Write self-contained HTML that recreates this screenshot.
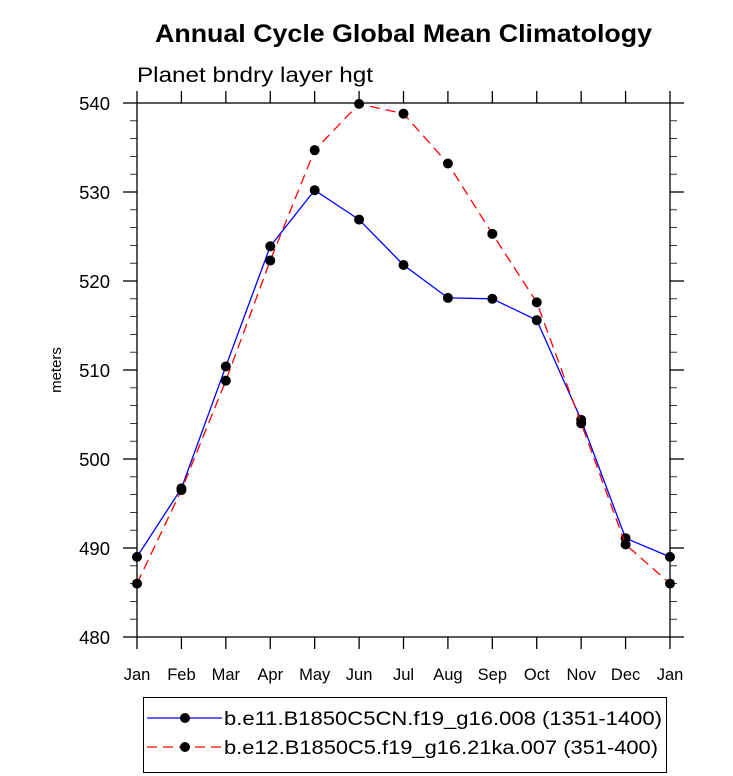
<!DOCTYPE html>
<html><head><meta charset="utf-8"><style>
body{margin:0;background:#fff}
svg{display:block;font-family:"Liberation Sans",Arial,sans-serif}
</style></head><body>
<svg id="chart" width="733" height="776" viewBox="0 0 733 776">
<text x="155" y="42" font-size="25" font-weight="bold" textLength="497" lengthAdjust="spacingAndGlyphs">Annual Cycle Global Mean Climatology</text>
<text x="137" y="82" font-size="21" textLength="236" lengthAdjust="spacingAndGlyphs">Planet bndry layer hgt</text>
<text transform="translate(61,370) rotate(-90)" text-anchor="middle" font-size="15">meters</text>
<g id="axes"></g>
<g id="series"></g>
<g>
<rect x="143.5" y="697.5" width="523" height="75" fill="none" stroke="#000" stroke-width="1"/>
<line x1="147" y1="718" x2="222" y2="718" stroke="#00f" stroke-width="1.3"/>
<circle cx="185" cy="718" r="5" fill="#000"/>
<text x="224" y="725" font-size="19" textLength="438" lengthAdjust="spacingAndGlyphs">b.e11.B1850C5CN.f19_g16.008 (1351-1400)</text>
<line x1="147" y1="747" x2="222" y2="747" stroke="#f00" stroke-width="1.3" stroke-dasharray="10,6"/>
<circle cx="185" cy="747" r="5" fill="#000"/>
<text x="224" y="754" font-size="19" textLength="434" lengthAdjust="spacingAndGlyphs">b.e12.B1850C5.f19_g16.21ka.007 (351-400)</text>
</g>
</svg>
<script>
const months=["Jan","Feb","Mar","Apr","May","Jun","Jul","Aug","Sep","Oct","Nov","Dec","Jan"];
const seriesBlue=[489.0,496.7,510.4,523.9,530.2,526.9,521.8,518.1,518.0,515.6,504.4,491.1,489.0];
const seriesRed=[486.0,496.5,508.8,522.3,534.7,539.9,538.8,533.2,525.3,517.6,504.0,490.4,486.0];
const yTicks=[480,490,500,510,520,530,540];
const X0=137,X1=670,Y0=637,Y1=103,YMIN=480,YMAX=540;
const xs=i=>X0+(X1-X0)*i/(months.length-1);
const ys=v=>Y0-(Y0-Y1)*(v-YMIN)/(YMAX-YMIN);
const NS="http://www.w3.org/2000/svg";
function mk(t,a,p){const e=document.createElementNS(NS,t);for(const k in a)e.setAttribute(k,a[k]);p.appendChild(e);return e;}
const ax=document.getElementById('axes');
const fr=mk('rect',{x:X0,y:Y1,width:X1-X0,height:Y0-Y1,fill:'none',stroke:'#000','stroke-width':1.3},ax);


for(let v=YMIN;v<=YMAX;v+=2){
  const y=ys(v),maj=(v%10===0),L=maj?14:7;
  mk('line',{x1:X0-L,y1:y,x2:X0,y2:y,stroke:'#000','stroke-width':maj?1.3:0.8},ax);
  mk('line',{x1:X1,y1:y,x2:X1+L,y2:y,stroke:'#000','stroke-width':maj?1.3:0.8},ax);
}
yTicks.forEach(v=>{
  const t=mk('text',{x:X0-27,y:ys(v)+7,'text-anchor':'end','font-size':18.5},ax);
  t.textContent=v;
  
  
});
months.forEach((m,i)=>{
  const x=xs(i);
  mk('line',{x1:x,y1:Y0,x2:x,y2:Y0+12,stroke:'#000','stroke-width':1.3},ax);
  mk('line',{x1:x,y1:Y1-12,x2:x,y2:Y1,stroke:'#000','stroke-width':1.3},ax);
  const t=mk('text',{x:x,y:Y0+43,'text-anchor':'middle','font-size':16.5},ax);
  t.textContent=m;
  
  
});
const sg=document.getElementById('series');
function draw(vals,color,dash,name){
  const pl=mk('polyline',{points:vals.map((v,i)=>xs(i)+','+ys(v)).join(' '),fill:'none',stroke:color,'stroke-width':1.3,'stroke-dasharray':dash},sg);
  
  
  vals.forEach((v,i)=>{
    const c=mk('circle',{cx:xs(i),cy:ys(v),r:5,fill:'#000'},sg);
    
    
  });
}
draw(seriesBlue,'#00f','none','blue-series');
draw(seriesRed,'#f00','10,6','red-series');
</script>
</body></html>
